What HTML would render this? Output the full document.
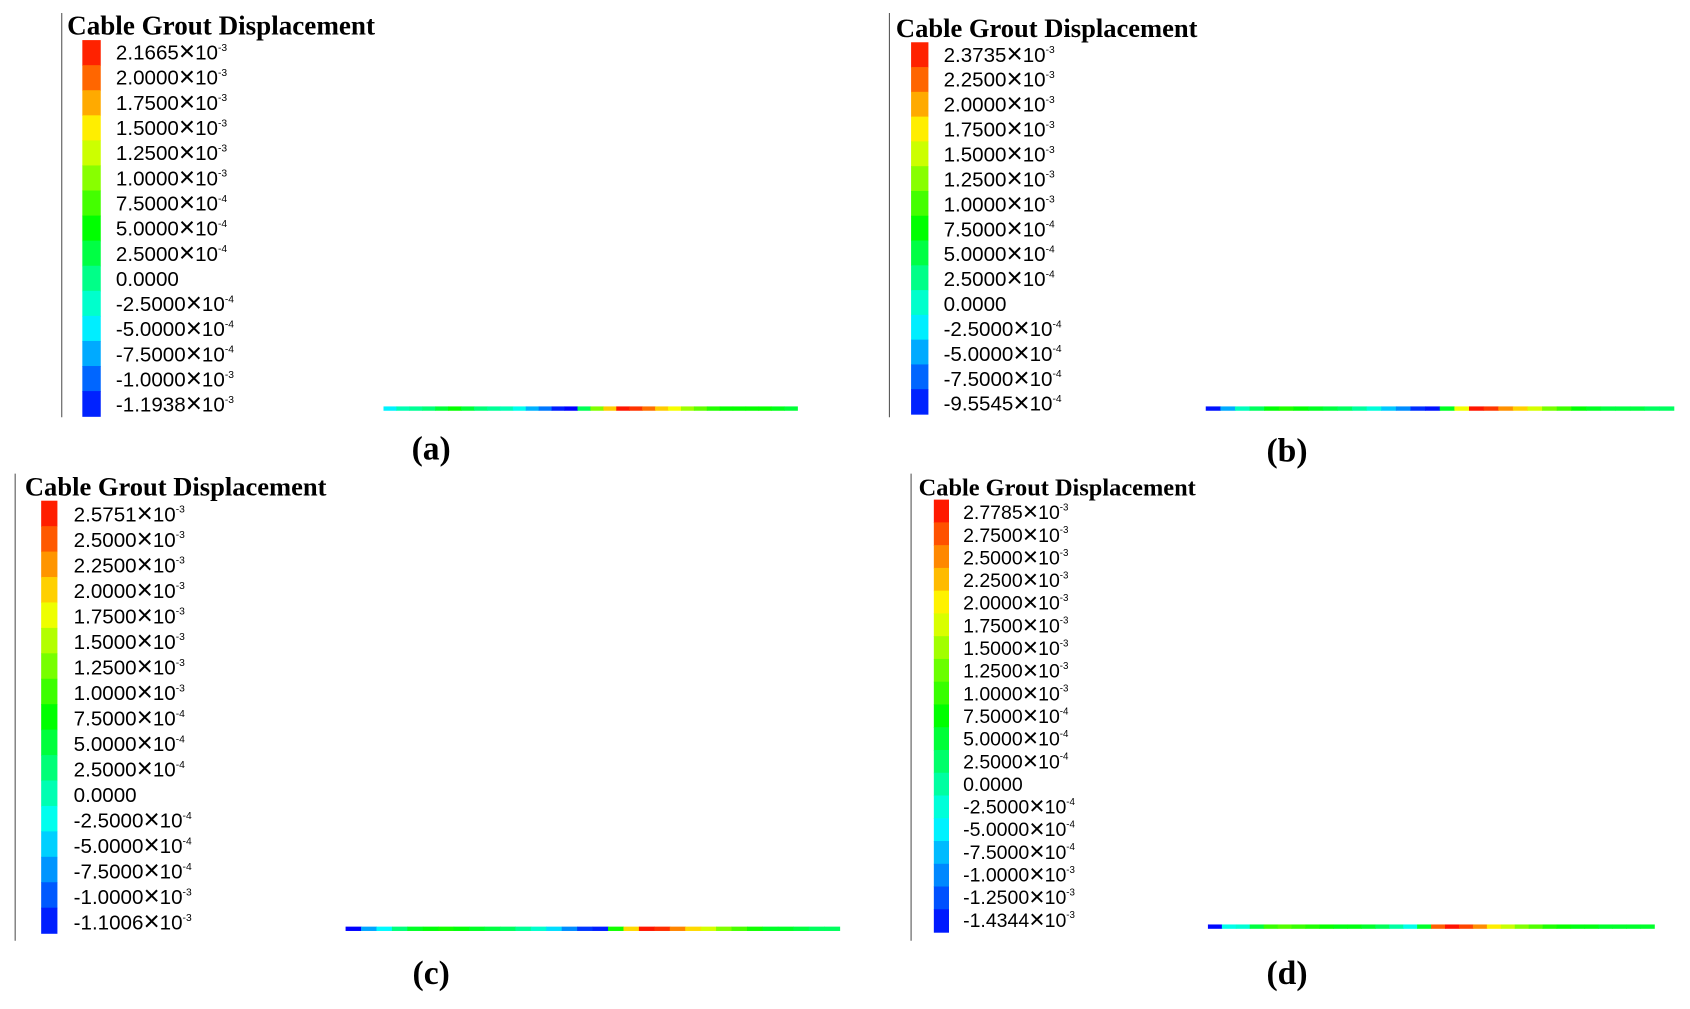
<!DOCTYPE html>
<html><head><meta charset="utf-8">
<style>
html,body{margin:0;padding:0;background:#fff;}
svg{display:block;}
.t{font-family:"Liberation Serif",serif;font-weight:bold;}
.l{font-family:"Liberation Sans",sans-serif;}
</style></head>
<body>
<svg id="fig" width="1690" height="1009" viewBox="0 0 1560 931" preserveAspectRatio="none" xmlns="http://www.w3.org/2000/svg"></svg>
<script>
// ---- data ----
const labelsA = ["2.1665|-3","2.0000|-3","1.7500|-3","1.5000|-3","1.2500|-3","1.0000|-3","7.5000|-4","5.0000|-4","2.5000|-4","0.0000|","-2.5000|-4","-5.0000|-4","-7.5000|-4","-1.0000|-3","-1.1938|-3"];
const labelsB = ["2.3735|-3","2.2500|-3","2.0000|-3","1.7500|-3","1.5000|-3","1.2500|-3","1.0000|-3","7.5000|-4","5.0000|-4","2.5000|-4","0.0000|","-2.5000|-4","-5.0000|-4","-7.5000|-4","-9.5545|-4"];
const labelsC = ["2.5751|-3","2.5000|-3","2.2500|-3","2.0000|-3","1.7500|-3","1.5000|-3","1.2500|-3","1.0000|-3","7.5000|-4","5.0000|-4","2.5000|-4","0.0000|","-2.5000|-4","-5.0000|-4","-7.5000|-4","-1.0000|-3","-1.1006|-3"];
const labelsD = ["2.7785|-3","2.7500|-3","2.5000|-3","2.2500|-3","2.0000|-3","1.7500|-3","1.5000|-3","1.2500|-3","1.0000|-3","7.5000|-4","5.0000|-4","2.5000|-4","0.0000|","-2.5000|-4","-5.0000|-4","-7.5000|-4","-1.0000|-3","-1.2500|-3","-1.4344|-3"];
// cable displacement values (×1e-3) along the cable, equal-length segments
const cableA = [-0.4,-0.1,0,0.1,0.3,0.5,0.3,0.1,0,-0.1,-0.3,-0.6,-0.8,-1.1,-1.19,0.2,0.9,1.5,2.1,2.0,1.8,1.5,1.3,1.0,0.8,0.6,0.5,0.5,0.5,0.5,0.4,0.3];
const cableB = [-0.9,-0.4,0.1,0.4,0.7,0.8,0.7,0.6,0.5,0.4,0.2,0,-0.3,-0.5,-0.8,-0.9,0.6,1.5,2.3,2.2,1.9,1.7,1.4,1.1,0.9,0.7,0.6,0.5,0.5,0.5,0.4,0.4];
const cableC = [-1.1,-0.5,-0.2,0.3,0.6,0.7,0.8,0.7,0.6,0.5,0.4,0.2,0,-0.3,-0.6,-0.9,-1.0,0.8,1.8,2.5,2.4,2.1,1.8,1.5,1.2,1.0,0.8,0.6,0.6,0.5,0.4,0.4];
const cableD = [-1.4,-0.3,-0.2,0.4,0.9,1.0,0.9,0.8,0.7,0.6,0.6,0.5,0.3,0,-0.3,0.5,2.4,2.7,2.5,2.2,1.8,1.5,1.2,1.0,0.8,0.7,0.6,0.6,0.5,0.5,0.5,0.5];

const panels = [
 {id:"a",labels:labelsA,cable:cableA,min:-1.1938,max:2.1665,axisX:57,axisY0:12,axisY1:385,titleX:62,titleY:32,titleSize:25,barX:76,barW:17,barY0:37,barY1:384,labX:107,labY0:49,labStep:23.2,fs:19,cX0:354,cX1:736,cY:377,capX:398,capY:424},
 {id:"b",labels:labelsB,cable:cableB,min:-0.95545,max:2.3735,axisX:821,axisY0:12,axisY1:385,titleX:827,titleY:34,titleSize:24.5,barX:841,barW:16,barY0:39,barY1:382,labX:871,labY0:51,labStep:23,fs:19,cX0:1113,cX1:1545,cY:377,capX:1188,capY:426},
 {id:"c",labels:labelsC,cable:cableC,min:-1.1006,max:2.5751,axisX:14,axisY0:437,axisY1:868,titleX:23,titleY:457,titleSize:24.5,barX:38,barW:15,barY0:462,barY1:861,labX:68,labY0:475,labStep:23.55,fs:19,cX0:319,cX1:775,cY:857,capX:398,capY:908},
 {id:"d",labels:labelsD,cable:cableD,min:-1.4344,max:2.7785,axisX:841,axisY0:437,axisY1:868,titleX:848,titleY:457,titleSize:22.5,barX:862,barW:14,barY0:461,barY1:860,labX:889,labY0:473,labStep:20.9,fs:18,cX0:1115,cX1:1527,cY:855,capX:1188,capY:908}
];

const NS="http://www.w3.org/2000/svg";
const svg=document.getElementById("fig");
function mk(tag,attrs,parent){const e=document.createElementNS(NS,tag);for(const k in attrs)e.setAttribute(k,attrs[k]);(parent||svg).appendChild(e);return e;}
function jet(t){t=Math.max(0,Math.min(1,t));return "hsl("+(240*(1-t)).toFixed(0)+",100%,50%)";}

panels.forEach(p=>{
  const g=mk("g",{});
  
  
  const ax=mk("line",{x1:p.axisX,x2:p.axisX,y1:p.axisY0,y2:p.axisY1,stroke:"#555","stroke-width":1},g);
  
  
  const ti=mk("text",{x:p.titleX,y:p.titleY,"font-size":p.titleSize,"class":"t",fill:"#000"},g);
  ti.textContent="Cable Grout Displacement";
  
  
  const n=p.labels.length;
  const bh=(p.barY1-p.barY0)/n;
  for(let i=0;i<n;i++){
    const r=mk("rect",{x:p.barX,y:p.barY0+i*bh,width:p.barW,height:bh+0.6,fill:jet(1-(i+0.5)/n)},g);
    
    
    const parts=p.labels[i].split("|");
    const tx=mk("text",{x:p.labX,y:p.labY0+i*p.labStep+6,"font-size":p.fs,"class":"l",fill:"#000"},g);
    
    
    if(parts[1]){
      const a=mk("tspan",{},tx); a.textContent=parts[0];
      const x=mk("tspan",{"font-size":p.fs*1.35,dy:1}, tx); x.textContent="×";
      const b=mk("tspan",{dy:-1},tx); b.textContent="10";
      const s=mk("tspan",{"font-size":p.fs*0.5,dy:-8},tx);
      s.textContent=parts[1];
    } else tx.textContent=parts[0];
  }
  const m=p.cable.length, sw=(p.cX1-p.cX0)/m;
  p.cable.forEach((v,i)=>{
    const t=(v-p.min)/(p.max-p.min);
    const r=mk("rect",{x:p.cX0+i*sw,y:p.cY-2,width:sw+0.5,height:4,fill:jet(t)},g);
    
    
  });
  const cap=mk("text",{x:p.capX,y:p.capY,"font-size":31,"font-weight":"bold","font-family":"Liberation Serif, serif","text-anchor":"middle",fill:"#000"},g);
  cap.textContent="("+p.id+")";
  
  
});
</script>
</body></html>
